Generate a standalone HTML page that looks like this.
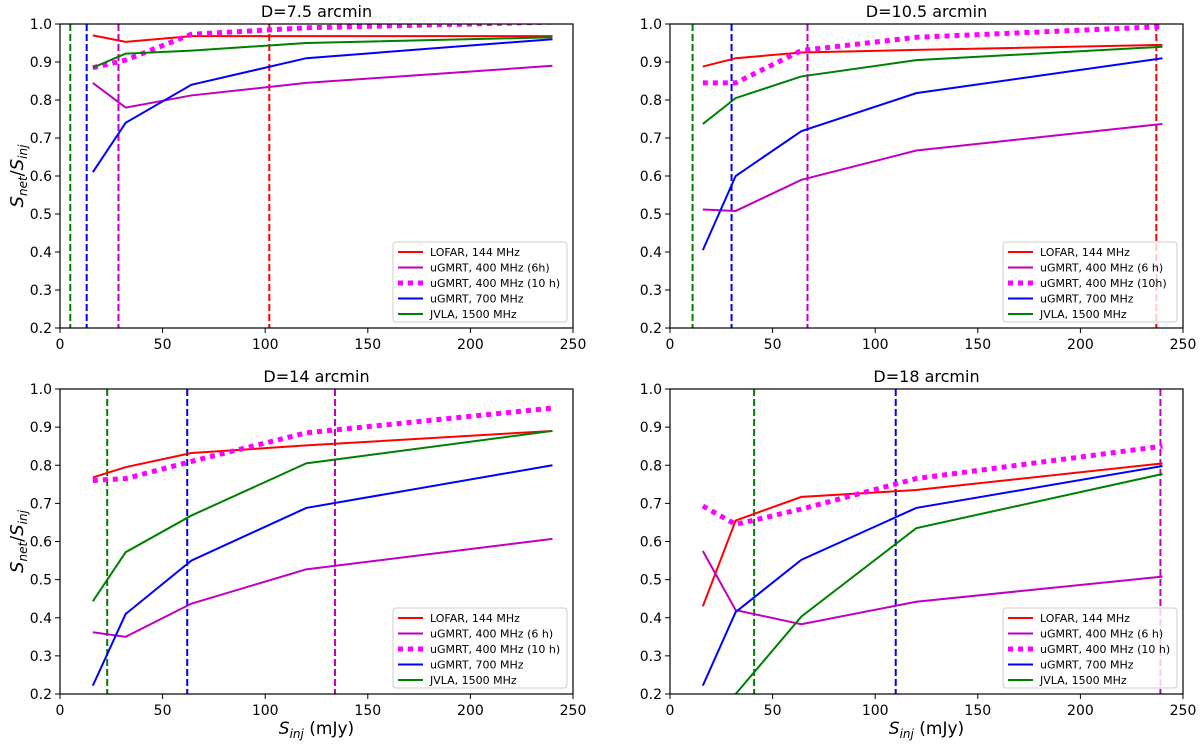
<!DOCTYPE html>
<html><head><meta charset="utf-8"><style>
body{margin:0;background:#fff;}
svg text{font-family:"DejaVu Sans","Liberation Sans",sans-serif;fill:#000;}
</style></head><body>
<svg id="chart" width="1200" height="745" xmlns="http://www.w3.org/2000/svg"></svg>
<script>
const xValues=[16,32,64,120,240];
const panelTitles=["D=7.5 arcmin","D=10.5 arcmin","D=14 arcmin","D=18 arcmin"];
const seriesNames=["LOFAR, 144 MHz","uGMRT, 400 MHz (6h)","uGMRT, 400 MHz (10 h)","uGMRT, 700 MHz","JVLA, 1500 MHz"];
const legendNames=[
 ["LOFAR, 144 MHz","uGMRT, 400 MHz (6h)","uGMRT, 400 MHz (10 h)","uGMRT, 700 MHz","JVLA, 1500 MHz"],
 ["LOFAR, 144 MHz","uGMRT, 400 MHz (6 h)","uGMRT, 400 MHz (10h)","uGMRT, 700 MHz","JVLA, 1500 MHz"],
 ["LOFAR, 144 MHz","uGMRT, 400 MHz (6 h)","uGMRT, 400 MHz (10 h)","uGMRT, 700 MHz","JVLA, 1500 MHz"],
 ["LOFAR, 144 MHz","uGMRT, 400 MHz (6 h)","uGMRT, 400 MHz (10 h)","uGMRT, 700 MHz","JVLA, 1500 MHz"]];
const lofar=[[0.97,0.953,0.968,0.968,0.968],[0.888,0.91,0.925,0.932,0.945],[0.768,0.795,0.832,0.852,0.89],[0.43,0.655,0.717,0.735,0.805]];
const gmrt6h=[[0.845,0.78,0.812,0.845,0.89],[0.512,0.508,0.59,0.667,0.737],[0.362,0.35,0.437,0.527,0.607],[0.575,0.42,0.383,0.442,0.508]];
const gmrt10h=[[0.885,0.905,0.973,0.99,1.005],[0.845,0.845,0.93,0.965,0.993],[0.76,0.765,0.81,0.885,0.95],[0.693,0.645,0.685,0.765,0.85]];
const gmrt700=[[0.61,0.74,0.84,0.91,0.96],[0.405,0.6,0.718,0.818,0.91],[0.222,0.41,0.55,0.688,0.8],[0.222,0.415,0.552,0.688,0.798]];
const jvla=[[0.885,0.922,0.93,0.95,0.965],[0.737,0.805,0.862,0.905,0.94],[0.443,0.572,0.668,0.805,0.89],[0.1,0.2,0.403,0.635,0.777]];
const vlineGreen=[5,11,23,41];
const vlineBlue=[13,30,62,110];
const vlineMagenta=[28.5,67,134,239];
const vlineRed=[102,237,null,null];
const xTicks=[0,50,100,150,200,250];
const yTicks=[0.2,0.3,0.4,0.5,0.6,0.7,0.8,0.9,1.0];

const NS="http://www.w3.org/2000/svg";
const svg=document.getElementById('chart');
function el(t,a,p){const e=document.createElementNS(NS,t);for(const k in a)e.setAttribute(k,a[k]);(p||svg).appendChild(e);return e;}
const boxes=[{x0:60,x1:573,y0:24,y1:328},{x0:670,x1:1183,y0:24,y1:328},{x0:60,x1:573,y0:389,y1:694},{x0:670,x1:1183,y0:389,y1:694}];
const colors=["#ff0000","#bf00bf","#ff00ff","#0000ff","#008000"];
const allSeries=[lofar,gmrt6h,gmrt10h,gmrt700,jvla];
const keys=["lofar","gmrt-400-6h","gmrt-400-10h","gmrt-700","jvla"];

boxes.forEach((b,p)=>{
 const g=el('g',{});
 
 
 const sx=v=>b.x0+(v/250)*(b.x1-b.x0);
 const sy=v=>b.y1-((v-0.2)/0.8)*(b.y1-b.y0);
 const cp=el('clipPath',{id:'cp'+p},g);
 el('rect',{x:b.x0,y:b.y0,width:b.x1-b.x0,height:b.y1-b.y0},cp);
 const plot=el('g',{'clip-path':'url(#cp'+p+')'},g);
 
 
 [[vlineGreen,"#008000","green"],[vlineBlue,"#0000ff","blue"],[vlineMagenta,"#bf00bf","magenta"],[vlineRed,"#ff0000","red"]].forEach(([arr,c,n])=>{
  const v=arr[p]; if(v===null) return;
  const l=el('line',{x1:sx(v),x2:sx(v),y1:b.y0,y2:b.y1,stroke:c,'stroke-width':2,'stroke-dasharray':'7,3'},plot);
  
  
 });
 allSeries.forEach((s,i)=>{
  const pts=s[p].map((v,j)=>sx(xValues[j])+','+sy(v)).join(' ');
  const a={points:pts,fill:'none',stroke:colors[i],'stroke-width':i==2?5:2};
  if(i==2)a['stroke-dasharray']='5,5';
  const pl=el('polyline',a,plot);
  
  
 });
 el('rect',{x:b.x0,y:b.y0,width:b.x1-b.x0,height:b.y1-b.y0,fill:'none',stroke:'#000','stroke-width':1.2},g);
 xTicks.forEach(t=>{
  el('line',{x1:sx(t),x2:sx(t),y1:b.y1,y2:b.y1+5,stroke:'#000'},g);
  const tx=el('text',{x:sx(t),y:b.y1+21,'text-anchor':'middle','font-size':14},g);
  tx.textContent=t;
  
  
 });
 yTicks.forEach(t=>{
  el('line',{x1:b.x0-5,x2:b.x0,y1:sy(t),y2:sy(t),stroke:'#000'},g);
  const tx=el('text',{x:b.x0-8,y:sy(t)+5,'text-anchor':'end','font-size':14},g);
  tx.textContent=t.toFixed(1);
  
  
 });
 const tt=el('text',{x:(b.x0+b.x1)/2,y:b.y0-7,'text-anchor':'middle','font-size':16},g);
 tt.textContent=panelTitles[p];
 
 
 if(p%2==0){
  const yl=el('text',{x:0,y:0,'text-anchor':'middle','font-size':18,transform:`translate(${b.x0-37},${(b.y0+b.y1)/2}) rotate(-90)`},g);
  yl.innerHTML='<tspan font-style="italic">S</tspan><tspan font-style="italic" font-size="12" dy="4">net</tspan><tspan dy="-4">/</tspan><tspan font-style="italic">S</tspan><tspan font-style="italic" font-size="12" dy="4">inj</tspan>';
  
  
 }
 if(p>=2){
  const xl=el('text',{x:(b.x0+b.x1)/2,y:b.y1+40,'text-anchor':'middle','font-size':17},g);
  xl.innerHTML='<tspan font-style="italic">S</tspan><tspan font-style="italic" font-size="12" dy="4">inj</tspan><tspan dy="-4"> (mJy)</tspan>';
  
  
 }
 const lg=el('g',{},g);
 
 
 const lx=b.x1-180, ly=b.y1-86;
 el('rect',{x:lx,y:ly,width:174,height:80,rx:3,fill:'#fff','fill-opacity':0.8,stroke:'#ccc'},lg);
 legendNames[p].forEach((n,i)=>{
  const yy=ly+10+i*15.5;
  const a={x1:lx+5,x2:lx+30,y1:yy,y2:yy,stroke:colors[i],'stroke-width':i==2?5:2};
  if(i==2)a['stroke-dasharray']='5,5';
  el('line',a,lg);
  const t=el('text',{x:lx+37,y:yy+4,'font-size':11},lg);
  t.textContent=n;
  
  
 });
});
</script>
</body></html>
